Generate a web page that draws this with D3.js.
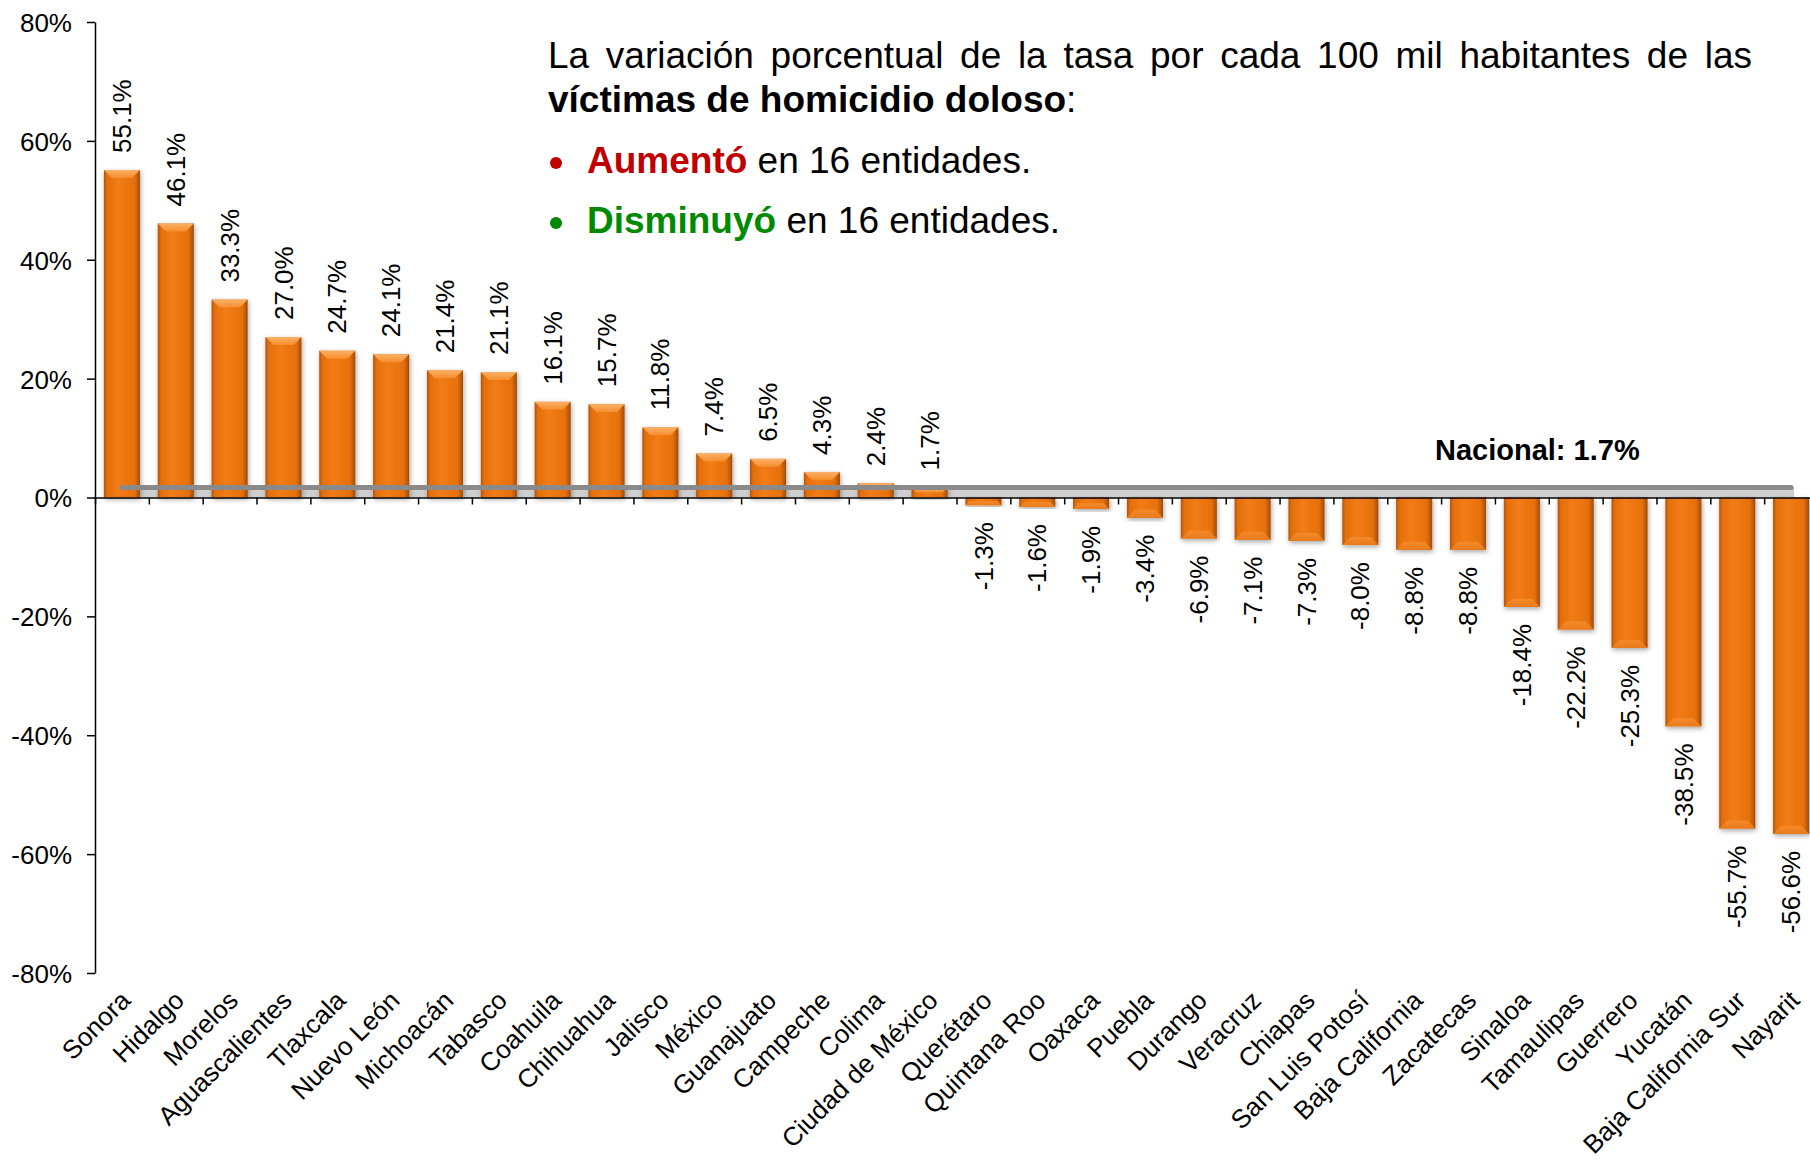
<!DOCTYPE html>
<html>
<head>
<meta charset="utf-8">
<script src="https://d3js.org/d3.v7.min.js"></script>
<style>
body { margin: 0; background: #fff; }
text { font-family: "Liberation Sans", Arial, sans-serif; }
.axis path, .axis line { stroke: #000; stroke-width: 1.5px; }
.axis text { font-size: 26px; fill: #000; font-family: "Liberation Sans", Arial, sans-serif; }
</style>
</head>
<body>
<script>

// data
var estados = ["Sonora", "Hidalgo", "Morelos", "Aguascalientes", "Tlaxcala", "Nuevo León",
  "Michoacán", "Tabasco", "Coahuila", "Chihuahua", "Jalisco", "México", "Guanajuato",
  "Campeche", "Colima", "Ciudad de México", "Querétaro", "Quintana Roo", "Oaxaca", "Puebla",
  "Durango", "Veracruz", "Chiapas", "San Luis Potosí", "Baja California", "Zacatecas",
  "Sinaloa", "Tamaulipas", "Guerrero", "Yucatán", "Baja California Sur", "Nayarit"];
var variacion = [55.1, 46.1, 33.3, 27.0, 24.7, 24.1, 21.4, 21.1, 16.1, 15.7, 11.8, 7.4, 6.5,
  4.3, 2.4, 1.7, -1.3, -1.6, -1.9, -3.4, -6.9, -7.1, -7.3, -8.0, -8.8, -8.8,
  -18.4, -22.2, -25.3, -38.5, -55.7, -56.6];
var nacional = 1.7;
var yTicks = [-80, -60, -40, -20, 0, 20, 40, 60, 80];
var titulo1 = "La variación porcentual de la tasa por cada 100 mil habitantes de las";
var titulo2 = "víctimas de homicidio doloso";

var width = 1810,
    height = 1160;

var svg = d3.select("body").append("svg")
  .attr("width", width)
  .attr("height", height);

var defs = svg.append("defs");

var grad = defs.append("linearGradient").attr("id", "barGrad")
  .attr("x1", 0).attr("x2", 1).attr("y1", 0).attr("y2", 0);
grad.append("stop").attr("offset", "0%").attr("stop-color", "#b05406");
grad.append("stop").attr("offset", "9%").attr("stop-color", "#e46f0e");
grad.append("stop").attr("offset", "40%").attr("stop-color", "#f27c14");
grad.append("stop").attr("offset", "85%").attr("stop-color", "#e6700e");
grad.append("stop").attr("offset", "100%").attr("stop-color", "#a04c04");

var bevelTop = defs.append("linearGradient").attr("id", "bevelTop")
  .attr("x1", 0).attr("x2", 0).attr("y1", 0).attr("y2", 1);
bevelTop.append("stop").attr("offset", "0%").attr("stop-color", "#fbb067");
bevelTop.append("stop").attr("offset", "100%").attr("stop-color", "#f58d2c");

var bevelBot = defs.append("linearGradient").attr("id", "bevelBot")
  .attr("x1", 0).attr("x2", 0).attr("y1", 0).attr("y2", 1);
bevelBot.append("stop").attr("offset", "0%").attr("stop-color", "#f48a2a");
bevelBot.append("stop").attr("offset", "100%").attr("stop-color", "#e87a1c");

var shadow = defs.append("filter").attr("id", "sombra")
  .attr("x", "-30%").attr("y", "-10%").attr("width", "160%").attr("height", "130%");
shadow.append("feDropShadow")
  .attr("dx", 1).attr("dy", 2).attr("stdDeviation", 2.5)
  .attr("flood-color", "#000").attr("flood-opacity", 0.35);

// scales
var x = d3.scaleBand()
  .domain(estados)
  .range([95, 1818])
  .paddingInner(0.33)
  .paddingOuter(0.165);

var xEdges = d3.scaleLinear()
  .domain([0, estados.length])
  .range([95, 1818]);

var y = d3.scaleLinear()
  .domain([-80, 80])
  .range([973, 22]);

// y axis
svg.append("g")
  .attr("class", "axis")
  .attr("transform", "translate(95,0)")
  .call(d3.axisLeft(y)
    .tickValues(yTicks)
    .tickSize(8)
    .tickSizeOuter(0)
    .tickPadding(15)
    .tickFormat(function(d) { return d + "%"; }))
  .selectAll("text").attr("dy", "0.36em");

// light band under the national line
var cx0 = x(estados[0]) + x.bandwidth() / 2,
    cx1 = x(estados[estados.length - 1]) + x.bandwidth() / 2;
svg.append("rect")
  .attr("x", cx0)
  .attr("y", y(nacional))
  .attr("width", cx1 - cx0 + 3)
  .attr("height", y(0) - y(nacional))
  .attr("fill", "#cfcfcf");

// bars
var bars = svg.append("g").selectAll("g.bar")
  .data(variacion)
  .enter().append("g")
  .attr("class", "bar")
  .attr("filter", "url(#sombra)");

bars.append("rect")
  .attr("x", function(d, i) { return x(estados[i]); })
  .attr("y", function(d) { return y(Math.max(0, d)); })
  .attr("width", x.bandwidth())
  .attr("height", function(d) { return Math.abs(y(d) - y(0)); })
  .attr("fill", "url(#barGrad)");

bars.append("path")
  .attr("fill", function(d) { return d >= 0 ? "url(#bevelTop)" : "url(#bevelBot)"; })
  .attr("d", function(d, i) {
    var x0 = x(estados[i]), x1 = x0 + x.bandwidth();
    var h = Math.abs(y(d) - y(0));
    var b = Math.min(8, h / 2);
    if (d >= 0) {
      var t = y(d);
      return "M" + x0 + "," + t + "L" + x1 + "," + t + "L" + (x1 - b) + "," + (t + b) +
        "L" + (x0 + b) + "," + (t + b) + "Z";
    }
    var bt = y(d);
    return "M" + x0 + "," + bt + "L" + x1 + "," + bt + "L" + (x1 - b) + "," + (bt - b) +
      "L" + (x0 + b) + "," + (bt - b) + "Z";
  });

// x axis
svg.append("g")
  .attr("class", "axis")
  .attr("transform", "translate(0," + y(0) + ")")
  .call(d3.axisBottom(xEdges)
    .tickValues(d3.range(estados.length + 1))
    .tickSize(7)
    .tickSizeOuter(0)
    .tickFormat(""));

// national line
svg.append("line")
  .attr("x1", cx0)
  .attr("x2", cx1)
  .attr("y1", y(nacional))
  .attr("y2", y(nacional))
  .attr("stroke", "#8a8a8a")
  .attr("stroke-width", 5)
  .attr("stroke-linecap", "round");

svg.append("text")
  .attr("x", 1435)
  .attr("y", 460)
  .attr("font-size", 29)
  .attr("font-weight", "bold")
  .text("Nacional: " + nacional.toFixed(1) + "%");

// value labels
svg.append("g").selectAll("text")
  .data(variacion)
  .enter().append("text")
  .attr("transform", function(d, i) {
    var cx = x(estados[i]) + x.bandwidth() / 2;
    var yy = d >= 0 ? y(d) - 17 : y(d) + 17;
    return "translate(" + cx + "," + yy + ") rotate(-90)";
  })
  .attr("dy", "0.35em")
  .attr("text-anchor", function(d) { return d >= 0 ? "start" : "end"; })
  .attr("font-size", 26)
  .text(function(d) { return d.toFixed(1) + "%"; });

// category labels
svg.append("g").selectAll("text")
  .data(estados)
  .enter().append("text")
  .attr("transform", function(d) {
    var cx = x(d) + x.bandwidth() / 2;
    return "translate(" + (cx + 10) + ",1002) rotate(-45)";
  })
  .attr("text-anchor", "end")
  .attr("font-size", 26)
  .text(function(d) { return d; });

// title block, first line justified
var tx0 = 548, tx1 = 1752;
var t1 = svg.append("text").attr("y", 68).attr("font-size", 37);
var words = titulo1.split(" ");
var spans = words.map(function(w) { return t1.append("tspan").text(w); });
var lens = spans.map(function(s) { return s.node().getComputedTextLength(); });
var gap = (tx1 - tx0 - d3.sum(lens)) / (words.length - 1);
var pos = tx0;
spans.forEach(function(s, i) {
  s.attr("x", pos);
  pos += lens[i] + gap;
});

var t2 = svg.append("text").attr("x", tx0).attr("y", 112).attr("font-size", 37);
t2.append("tspan").attr("font-weight", "bold").text(titulo2);
t2.append("tspan").text(":");

var bullets = [
  {y: 173, color: "#c00000", bold: "Aumentó", rest: " en 16 entidades."},
  {y: 233, color: "#008a00", bold: "Disminuyó", rest: " en 16 entidades."}
];
bullets.forEach(function(b) {
  svg.append("circle")
    .attr("cx", 556)
    .attr("cy", b.y - 10)
    .attr("r", 6)
    .attr("fill", b.color);
  var t = svg.append("text").attr("x", 587).attr("y", b.y).attr("font-size", 37);
  t.append("tspan").attr("font-weight", "bold").attr("fill", b.color).text(b.bold);
  t.append("tspan").text(b.rest);
});

</script>
</body>
</html>
